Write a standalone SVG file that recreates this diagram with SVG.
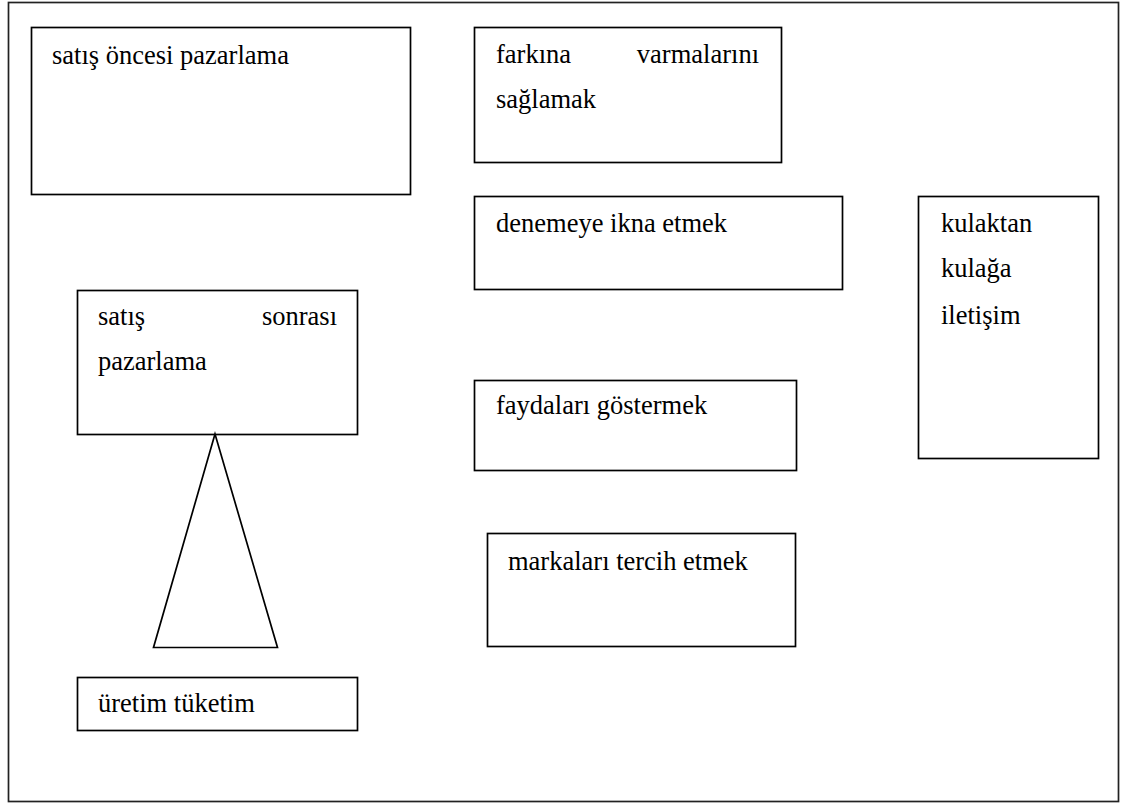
<svg xmlns="http://www.w3.org/2000/svg" width="1121" height="803" viewBox="0 0 1121 803">
<style>
.box{fill:#fff;stroke:#000;stroke-width:1.7}
text{font-family:'Liberation Serif','Times New Roman',Tinos,'DejaVu Serif',serif;font-size:26.5px;fill:#000}
.e{text-anchor:end}
</style>
<rect x="0" y="0" width="1121" height="803" fill="#fff"/>
<rect x="8.5" y="2.5" width="1110" height="799" fill="none" stroke="#222" stroke-width="1.7"/>
<g id="satis-oncesi">
<rect class="box" x="31.5" y="27.5" width="379" height="167"/>
<text x="52" y="64">satış öncesi pazarlama</text>
</g>
<g id="farkina">
<rect class="box" x="474.5" y="27.5" width="307" height="135"/>
<text x="496" y="63">farkına</text>
<text class="e" x="759" y="63">varmalarını</text>
<text x="496" y="108">sağlamak</text>
</g>
<g id="denemeye">
<rect class="box" x="474.5" y="196.5" width="368" height="93"/>
<text x="496" y="232">denemeye ikna etmek</text>
</g>
<g id="kulaktan">
<rect class="box" x="918.5" y="196.5" width="180" height="262"/>
<text x="941" y="232">kulaktan</text>
<text x="941" y="277">kulağa</text>
<text x="941" y="324">iletişim</text>
</g>
<g id="satis-sonrasi">
<rect class="box" x="77.5" y="290.5" width="280" height="144"/>
<text x="98" y="325">satış</text>
<text class="e" x="337" y="325">sonrası</text>
<text x="98" y="370">pazarlama</text>
</g>
<g id="faydalari">
<rect class="box" x="474.5" y="380.5" width="322" height="90"/>
<text x="496" y="414">faydaları göstermek</text>
</g>
<g id="markalari">
<rect class="box" x="487.5" y="533.5" width="308" height="113"/>
<text x="508" y="570">markaları tercih etmek</text>
</g>
<g id="ucgen">
<polygon class="box" points="215,434 153.5,647.5 277.5,647.5"/>
</g>
<g id="uretim">
<rect class="box" x="77.5" y="677.5" width="280" height="53"/>
<text x="98" y="712">üretim tüketim</text>
</g>
<g id="connectors"></g>
</svg>
